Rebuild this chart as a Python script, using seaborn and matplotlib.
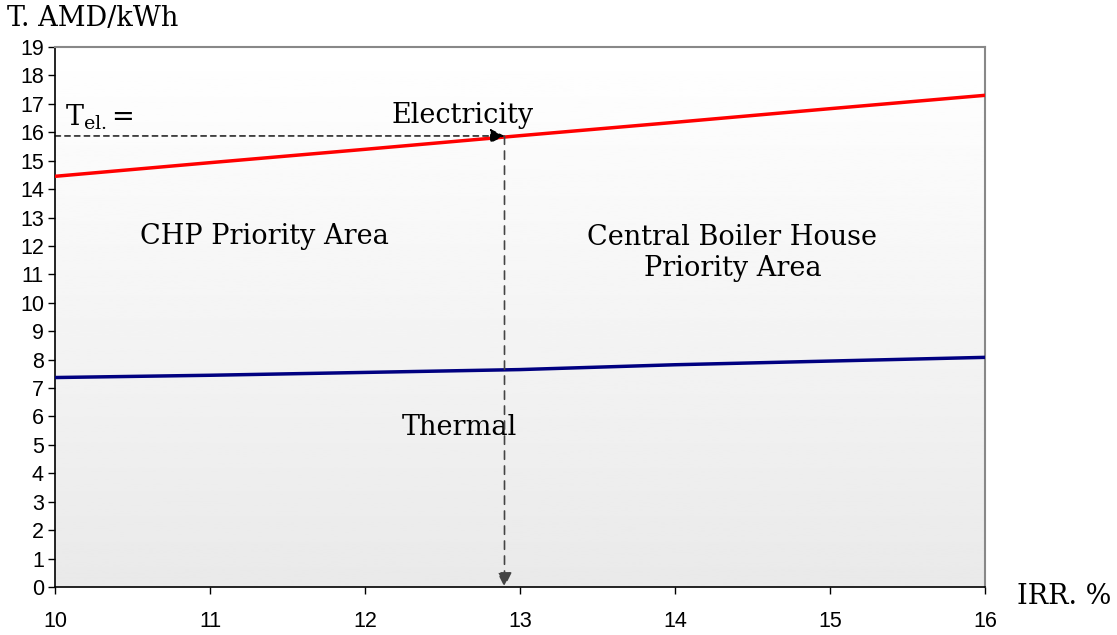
import numpy as np
import pandas as pd
import seaborn as sns
import matplotlib
matplotlib.use("Agg")
import matplotlib.pyplot as plt

# IRR values (%) and tariffs (thousand AMD per kWh)
irr = [10, 11, 12, 13, 14, 15, 16]
electricity = [14.45, 14.93, 15.40, 15.88, 16.35, 16.83, 17.30]
thermal = [7.37, 7.45, 7.55, 7.65, 7.82, 7.95, 8.08]
x_ticks = [10, 11, 12, 13, 14, 15, 16]
y_ticks = list(range(0, 20))

# Break-even point read on the electricity line
irr_point = 12.90
tel_point = 15.87

sns.set_theme(style="white")
plt.rcParams["font.family"] = ["Liberation Sans", "DejaVu Sans"]
plt.rcParams["text.color"] = "black"
serif = ["DejaVu Serif"]
fs = 19.5

df = pd.DataFrame({"IRR": irr * 2,
                   "T": electricity + thermal,
                   "series": ["Electricity"] * len(irr) + ["Thermal"] * len(irr)})

fig = plt.figure(figsize=(11.17, 6.35), dpi=100)
ax = fig.add_axes([55 / 1117, 48 / 635, 930 / 1117, 540 / 635])

# vertical grey gradient behind the plot
grad = np.linspace(0.915, 1.0, 256).reshape(-1, 1)
ax.imshow(grad, extent=[0, 1, 0, 1], transform=ax.transAxes, cmap="gray",
          vmin=0, vmax=1, aspect="auto", origin="lower", zorder=0)

sns.lineplot(data=df, x="IRR", y="T", hue="series",
             palette={"Electricity": "#ff0000", "Thermal": "#000080"},
             linewidth=2.5, legend=False, ax=ax, zorder=3)

ax.set_xlim(10, 16)
ax.set_ylim(0, 19)
ax.set_xticks(x_ticks)
ax.set_yticks(y_ticks)
ax.set_xticklabels([str(v) for v in x_ticks], fontsize=15.5, color="black")
ax.set_yticklabels([str(v) for v in y_ticks], fontsize=15.5, color="black")
ax.set_xlabel("")
ax.set_ylabel("")
ax.tick_params(axis="both", colors="black", direction="out", length=5, width=1,
               bottom=True, left=True)
ax.tick_params(axis="x", pad=12)
ax.tick_params(axis="y", pad=3)
for side in ("left", "bottom"):
    ax.spines[side].set_color("black")
    ax.spines[side].set_linewidth(1.2)
for side in ("top", "right"):
    ax.spines[side].set_color("#888888")
    ax.spines[side].set_linewidth(1.5)

# dashed guide arrows from the axis to the line and down to the IRR axis
ax.annotate("", xy=(irr_point, tel_point), xytext=(10, tel_point),
            arrowprops=dict(arrowstyle="-|>", linestyle=(0, (4, 3)), color="black",
                            lw=1, mutation_scale=22, shrinkA=0, shrinkB=0), zorder=4)
ax.annotate("", xy=(irr_point, 0), xytext=(irr_point, tel_point),
            arrowprops=dict(arrowstyle="-|>", linestyle=(0, (5, 4)), color="#444444",
                            lw=1.2, mutation_scale=22, shrinkA=0, shrinkB=0), zorder=4)

# annotations
fig.text(7 / 1117, 1 - 19 / 635, "T. AMD/kWh", family=serif, fontsize=fs,
         va="center", ha="left")
fig.text(1017 / 1117, 1 - 597 / 635, "IRR. %", family=serif, fontsize=fs,
         va="center", ha="left")
ax.text(10.065, 16.54, r"T$_{\mathregular{el.}}$=", family=serif, fontsize=fs,
        va="center", ha="left")
ax.text(12.63, 16.6, "Electricity", family=serif, fontsize=fs, va="center", ha="center")
ax.text(11.35, 12.35, "CHP Priority Area", family=serif, fontsize=fs, va="center", ha="center")
ax.text(14.37, 11.75, "Central Boiler House\nPriority Area", family=serif, fontsize=fs,
        va="center", ha="center", linespacing=1.2)
ax.text(12.61, 5.6, "Thermal", family=serif, fontsize=fs, va="center", ha="center")

fig.savefig("out.png", dpi=100)
